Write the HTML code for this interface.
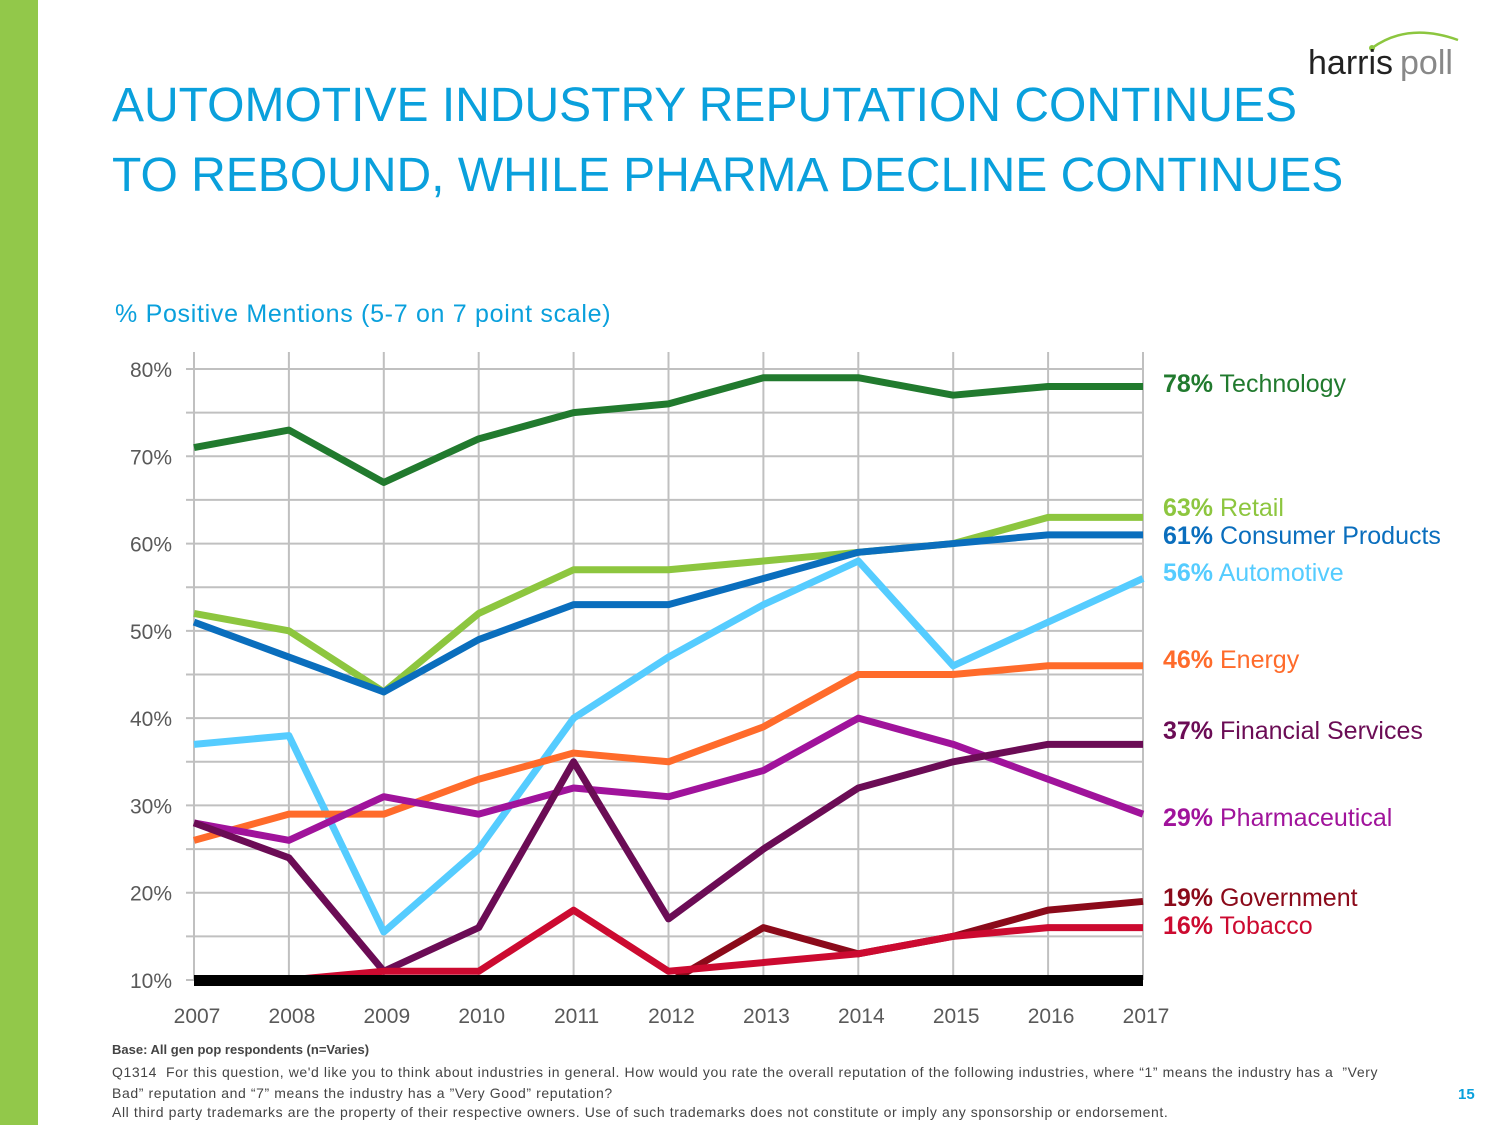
<!DOCTYPE html>
<html><head><meta charset="utf-8"><style>
body{margin:0;width:1500px;height:1125px;overflow:hidden;background:#fff;font-family:"Liberation Sans",sans-serif;position:relative}
.t{position:absolute;white-space:nowrap}
</style></head><body>
<div style="position:absolute;left:0;top:0;width:38px;height:1125px;background:#92c84a"></div>
<div class="t" style="left:112px;top:71px;font-size:48px;line-height:70px;color:#0aa0dc">AUTOMOTIVE INDUSTRY REPUTATION CONTINUES<br>TO REBOUND, WHILE PHARMA DECLINE CONTINUES</div>
<div style="position:absolute;left:1308px;top:28px;width:160px;height:60px">
<svg width="160" height="60"><path d="M64 20 Q100 -6 150 12" stroke="#8cc63f" stroke-width="2.5" fill="none"/><circle cx="64" cy="20" r="3" fill="#8cc63f"/>
<text x="0" y="46" font-size="34" fill="#222" font-family="Liberation Sans">harris</text><text x="92" y="46" font-size="34" fill="#888" font-family="Liberation Sans">poll</text></svg></div>
<div class="t" style="left:115px;top:300px;font-size:25px;letter-spacing:0.7px;color:#0aa0dc">% Positive Mentions (5-7 on 7 point scale)</div>
<svg id="c" width="1500" height="1125" style="position:absolute;left:0;top:0"></svg>
<div class="t" style="left:112px;top:1042px;font-size:13px;font-weight:bold;color:#444">Base: All gen pop respondents (n=Varies)</div>
<div class="t" style="left:112px;top:1062px;font-size:14px;letter-spacing:0.6px;line-height:21px;color:#444">Q1314&nbsp; For this question, we'd like you to think about industries in general. How would you rate the overall reputation of the following industries, where “1” means the industry has a&nbsp; ”Very<br>Bad” reputation and “7” means the industry has a ”Very Good” reputation?</div>
<div class="t" style="left:112px;top:1104px;font-size:14px;letter-spacing:0.6px;color:#444">All third party trademarks are the property of their respective owners. Use of such trademarks does not constitute or imply any sponsorship or endorsement.</div>
<div class="t" style="left:1458px;top:1086px;font-size:15px;font-weight:bold;color:#0aa0dc">15</div>
<script>
const years=["2007","2008","2009","2010","2011","2012","2013","2014","2015","2016","2017"];
const yTicks=[10,20,30,40,50,60,70,80];
const technology=[71,73,67,72,75,76,79,79,77,78,78];
const retail=[52,50,43,52,57,57,58,59,60,63,63];
const consumer=[51,47,43,49,53,53,56,59,60,61,61];
const automotive=[37,38,15.5,25,40,47,53,58,46,51,56];
const energy=[26,29,29,33,36,35,39,45,45,46,46];
const financial=[28,24,11,16,35,17,25,32,35,37,37];
const pharma=[28,26,31,29,32,31,34,40,37,33,29];
const government=[null,null,null,null,null,9.7,16,13,15,18,19];
const tobacco=[10,10,11,11,18,11,12,13,15,16,16];
const labels=[["78%","Technology",383],["63%","Retail",507],["61%","Consumer Products",535],["56%","Automotive",572],["46%","Energy",659],["37%","Financial Services",730],["29%","Pharmaceutical",817],["19%","Government",897],["16%","Tobacco",925]];
const svg=document.getElementById('c');const NS="http://www.w3.org/2000/svg";
const X=i=>194+i*(1143-194)/10;const Y=v=>980-(v-10)*(611/70);
function mk(t,a){const e=document.createElementNS(NS,t);for(const k in a)e.setAttribute(k,a[k]);svg.appendChild(e);return e;}
for(let v=10;v<=80;v+=5){const l=mk('line',{x1:186,x2:1143,y1:Y(v),y2:Y(v),stroke:'#c0c0c0','stroke-width':2});

}
years.forEach((y,i)=>{const l=mk('line',{x1:X(i),x2:X(i),y1:352,y2:980,stroke:'#c0c0c0','stroke-width':2});


const t=mk('text',{x:X(i)+3,y:1023,'text-anchor':'middle','font-size':21,fill:'#595959','font-family':'Liberation Sans'});t.textContent=y;

});
yTicks.forEach(v=>{const t=mk('text',{x:172,y:Y(v)+8,'text-anchor':'end','font-size':21,fill:'#595959','font-family':'Liberation Sans'});t.textContent=v+'%';

});
const series=[[technology,'#217a2e','technology'],[retail,'#8dc63f','retail'],[consumer,'#0a6ebd','consumer-products'],[automotive,'#55ccff','automotive'],[energy,'#ff6b2b','energy'],[pharma,'#a0139b','pharmaceutical'],[financial,'#6b0c55','financial-services'],[government,'#8b0a1a','government'],[tobacco,'#cc0a30','tobacco']];
series.forEach(([d,c,n])=>{let p='';d.forEach((v,i)=>{if(v==null)return;p+=(p?'L':'M')+X(i)+' '+Y(v);});
const e=mk('path',{d:p,stroke:c,'stroke-width':7,fill:'none','stroke-linejoin':'round'});

});
const b=mk('rect',{x:194,y:975,width:949,height:11,fill:'#000'});


const cols={Technology:'#217a2e',Retail:'#8dc63f','Consumer Products':'#0a6ebd',Automotive:'#55ccff',Energy:'#ff6b2b','Financial Services':'#6b0c55',Pharmaceutical:'#a0139b',Government:'#8b0a1a',Tobacco:'#cc0a30'};
labels.forEach(([p,n,y])=>{const t=mk('text',{x:1163,y:y+9,'font-size':25,fill:cols[n],'font-family':'Liberation Sans'});
const s=document.createElementNS(NS,'tspan');s.setAttribute('font-weight','bold');s.textContent=p;t.appendChild(s);t.appendChild(document.createTextNode(' '+n));

});
</script>
</body></html>
